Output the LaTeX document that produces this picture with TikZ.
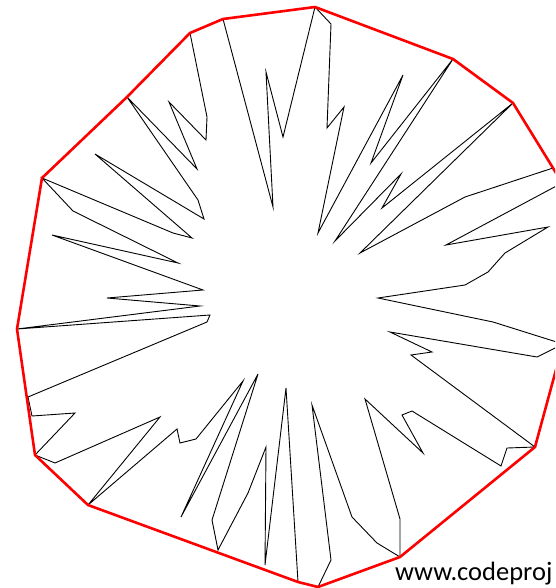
\documentclass[tikz,border=0pt]{standalone}
\usepackage{fontspec}
\newfontfamily\calib{Carlito}
\begin{document}
\begin{tikzpicture}[x=1pt,y=-1pt,
  poly/.style={draw=black,line width=0.9pt,line join=miter},
  hull/.style={draw=red,line width=2.6pt,line join=round},
  credit/.style={font=\calib\fontsize{26.5}{30}\selectfont,anchor=base west,inner sep=0pt}]
\useasboundingbox (0,0) rectangle (555,588);
\clip (0,0) rectangle (555,588);
\draw[poly] (315,7)--(283,137)--(266,72)--(273,207)--(223,19)--(190,33)--(207,117)--(206,140)--(169,102)--(197,169)--(127,97)--(198,200)--(204,219)--(95,154)--(192,238)--(173,233)--(42,178)--(73,211)--(178,263)--(52,235)--(203,290)--(107,298)--(200,306)--(17,329)--(210,315)--(207,322)--(28,397)--(32,416)--(75,413)--(35,455)--(55,463)--(160,417)--(88,505)--(177,429)--(180,443)--(196,439)--(243,381)--(181,517)--(258,374)--(212,520)--(218,550)--(248,493)--(266,447)--(265,565)--(286,388)--(298,582)--(318,587)--(331,560)--(312,405)--(352,517)--(377,543)--(400,557)--(400,519)--(365,399)--(423,453)--(402,415)--(412,411)--(501,466)--(507,448)--(535,447)--(411,355)--(432,352)--(390,332)--(537,357)--(563,344)--(493,322)--(378,298)--(465,285)--(488,272)--(505,253)--(548,227)--(446,245)--(562,183)--(553,168)--(465,197)--(360,253)--(513,103)--(382,208)--(401,174)--(335,241)--(453,59)--(371,163)--(403,75)--(318,233)--(344,107)--(327,128)--(331,24)--cycle;
\draw[hull] (17,329)--(42,178)--(127,97)--(190,33)--(223,19)--(315,7)--(453,59)--(513,103)--(553,168)--(562,183)--(563,344)--(535,447)--(400,557)--(318,587)--(298,582)--(88,505)--(35,455)--cycle;
\node[credit] (site) at (395,580) {www.codeproj};
\end{tikzpicture}
\end{document}
